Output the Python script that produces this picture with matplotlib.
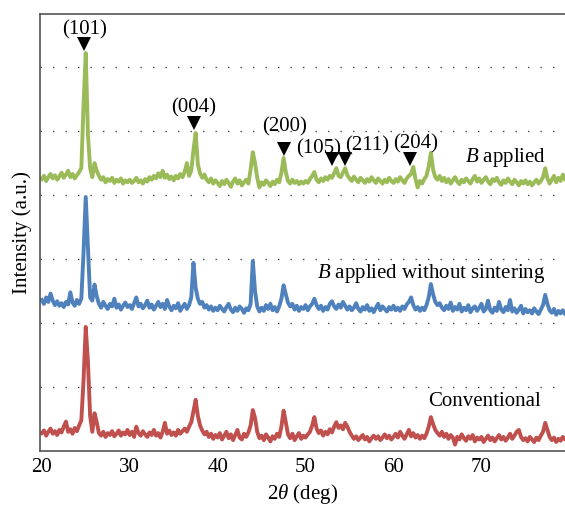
import numpy as np
import matplotlib
matplotlib.use("Agg")
import matplotlib.pyplot as plt

plt.rcParams['font.family'] = ['Liberation Serif', 'DejaVu Serif']
plt.rcParams['mathtext.fontset'] = 'custom'
plt.rcParams['mathtext.rm'] = 'Liberation Serif'
plt.rcParams['mathtext.it'] = 'Liberation Serif:italic'

# 2theta scan, 0.25 deg step
two_theta = np.arange(20.0, 80.0, 0.25)

# intensities (x0.01 a.u.), one row = 5 deg
conventional = [
    28, 32, 24, 30, 35, 27, 31, 25, 33, 29, 38, 46, 30, 34, 27, 36, 31, 40, 48, 110,
    194, 140, 55, 30, 59, 45, 28, 24, 30, 22, 28, 25, 31, 23, 27, 32, 24, 29, 26, 33,
    25, 30, 22, 38, 28, 24, 31, 26, 22, 29, 25, 33, 24, 28, 21, 30, 44, 27, 32, 25,
    29, 24, 33, 27, 31, 35, 30, 38, 45, 62, 80, 55, 40, 32, 26, 30, 22, 27, 19, 25,
    21, 28, 18, 24, 30, 20, 26, 17, 25, 33, 21, 18, 27, 22, 29, 40, 64, 52, 30, 20,
    24, 17, 26, 21, 15, 23, 19, 27, 22, 38, 63, 45, 26, 20, 27, 17, 23, 28, 19, 24,
    21, 26, 30, 40, 53, 35, 28, 32, 24, 30, 26, 34, 29, 38, 45, 36, 40, 34, 44, 38,
    30, 24, 19, 23, 17, 21, 25, 18, 22, 15, 20, 24, 19, 23, 17, 21, 26, 20, 24, 18,
    22, 27, 21, 30, 24, 19, 26, 33, 23, 28, 21, 25, 19, 24, 20, 27, 38, 53, 42, 33,
    28, 24, 30, 22, 27, 19, 25, 21, 10, 22, 18, 26, 20, 16, 23, 19, 25, 15, 21, 18,
    22, 14, 19, 24, 17, 21, 15, 20, 25, 18, 22, 16, 21, 27, 19, 24, 30, 33, 22, 17,
    20, 15, 22, 18, 14, 21, 17, 24, 30, 44, 33, 22, 17, 21, 14, 19, 16, 22, 18, 20,
]

no_sintering = [
    36, 30, 40, 33, 46, 35, 28, 34, 27, 31, 25, 33, 29, 48, 32, 27, 36, 30, 38, 110,
    197, 120, 40, 35, 60, 42, 30, 24, 33, 27, 22, 30, 26, 38, 24, 29, 21, 27, 32, 25,
    28, 22, 31, 40, 26, 30, 23, 28, 35, 24, 29, 21, 27, 33, 25, 30, 22, 36, 26, 20,
    27, 23, 31, 19, 25, 30, 22, 28, 40, 94, 55, 38, 30, 33, 24, 28, 21, 26, 19, 24,
    20, 27, 22, 18, 25, 30, 21, 17, 24, 19, 26, 22, 16, 23, 20, 30, 97, 50, 26, 18,
    24, 19, 28, 22, 30, 20, 25, 18, 26, 38, 59, 45, 32, 26, 30, 21, 27, 19, 25, 22,
    28, 20, 26, 30, 38, 28, 22, 27, 19, 25, 21, 30, 34, 26, 22, 29, 24, 33, 27, 21,
    26, 20, 24, 31, 22, 18, 25, 21, 28, 19, 23, 17, 24, 30, 20, 26, 22, 18, 25, 21,
    27, 20, 24, 19, 26, 22, 29, 33, 40, 28, 21, 25, 19, 24, 20, 28, 40, 61, 45, 33,
    28, 31, 24, 20, 27, 22, 32, 19, 25, 21, 30, 18, 24, 20, 28, 17, 23, 26, 19, 24,
    30, 18, 22, 35, 20, 16, 24, 19, 33, 21, 17, 25, 20, 36, 18, 23, 16, 21, 27, 15,
    22, 17, 20, 15, 23, 18, 14, 21, 28, 44, 30, 20, 16, 22, 13, 19, 15, 20, 14, 18,
]

b_applied = [
    25, 30, 22, 28, 33, 26, 31, 24, 29, 35, 27, 32, 38, 28, 33, 26, 31, 36, 42, 140,
    222, 95, 42, 28, 50, 38, 30, 24, 28, 20, 25, 22, 27, 19, 24, 21, 26, 18, 23, 20,
    24, 19, 22, 27, 20, 23, 18, 25, 21, 28, 24, 30, 26, 34, 28, 38, 27, 32, 25, 29,
    23, 30, 26, 33, 28, 36, 50, 30, 38, 70, 97, 48, 34, 27, 32, 24, 20, 26, 18, 23,
    19, 14, 22, 17, 24, 19, 13, 21, 26, 18, 23, 15, 20, 24, 18, 40, 67, 50, 27, 12,
    20, 16, 23, 19, 14, 21, 17, 24, 20, 35, 58, 36, 22, 18, 24, 19, 22, 17, 21, 18,
    22, 19, 25, 30, 36, 24, 20, 26, 22, 28, 24, 30, 27, 34, 42, 30, 28, 35, 42, 31,
    26, 22, 29, 24, 20, 27, 23, 19, 25, 21, 28, 23, 19, 26, 22, 18, 24, 20, 27, 22,
    19, 25, 21, 28, 23, 19, 26, 30, 33, 44, 25, 12, 22, 18, 25, 30, 45, 66, 40, 28,
    24, 30, 22, 27, 20, 25, 18, 23, 28, 21, 17, 24, 20, 26, 22, 18, 25, 30, 21, 26,
    19, 24, 28, 21, 17, 25, 22, 27, 20, 16, 23, 19, 26, 21, 17, 24, 20, 15, 22, 18,
    23, 17, 21, 15, 20, 24, 18, 22, 28, 42, 26, 18, 24, 30, 20, 27, 22, 32, 24, 28,
]

# (hkl) markers on the B applied pattern
hkl_labels = ['(101)', '(004)', '(200)', '(105)', '(211)', '(204)']
hkl_pos = [24.8, 37.3, 47.5, 53.0, 54.5, 61.9]
marker_y = [6.36, 5.12, 4.72, 4.56, 4.56, 4.56]
label_x = [24.9, 37.3, 47.6, 51.5, 57.0, 62.5]
label_y = [6.58, 5.36, 5.06, 4.73, 4.77, 4.80]

fs = 15

fig = plt.figure(figsize=(5.65, 5.15), dpi=100)
ax = fig.add_axes([40 / 565, 64 / 515, 525 / 565, 437 / 515])

ax.plot(two_theta, np.array(conventional) / 100, color='#C0504D', lw=2.8)
ax.plot(two_theta, np.array(no_sintering) / 100 + 2.0, color='#4F81BD', lw=2.8)
ax.plot(two_theta, np.array(b_applied) / 100 + 4.0, color='#9BBB59', lw=2.8)

ax.plot(hkl_pos, marker_y, 'v', color='black', markersize=10, markeredgewidth=0)
for t, x, y in zip(hkl_labels, label_x, label_y):
    ax.text(x, y, t, ha='center', va='center', fontsize=fs)

ax.text(77.4, 4.58, '$B$ applied', ha='right', va='center', fontsize=fs)
ax.text(77.3, 2.78, '$B$ applied without sintering', ha='right', va='center', fontsize=fs)
ax.text(76.7, 0.77, 'Conventional', ha='right', va='center', fontsize=fs)

ax.set_xlim(19.8, 79.5)
ax.set_ylim(0, 6.83)
ax.set_xticks([20, 30, 40, 50, 60, 70])
ax.set_yticks([1, 2, 3, 4, 5, 6])
ax.set_yticklabels([])
ax.tick_params(axis='both', length=0, labelsize=fs)
ax.tick_params(axis='x', pad=5)
ax.grid(True, axis='y', color='#444444', lw=1.0, linestyle=(0, (1, 8)))

ax.spines['right'].set_visible(False)
for s in ['left', 'bottom', 'top']:
    ax.spines[s].set_color('#555555')
    ax.spines[s].set_linewidth(1.2)

ax.set_xlabel(r'2$\theta$ (deg)', fontsize=fs, labelpad=4)
ax.set_ylabel('Intensity (a.u.)', fontsize=fs, labelpad=2)

fig.savefig('out.png', dpi=100)
